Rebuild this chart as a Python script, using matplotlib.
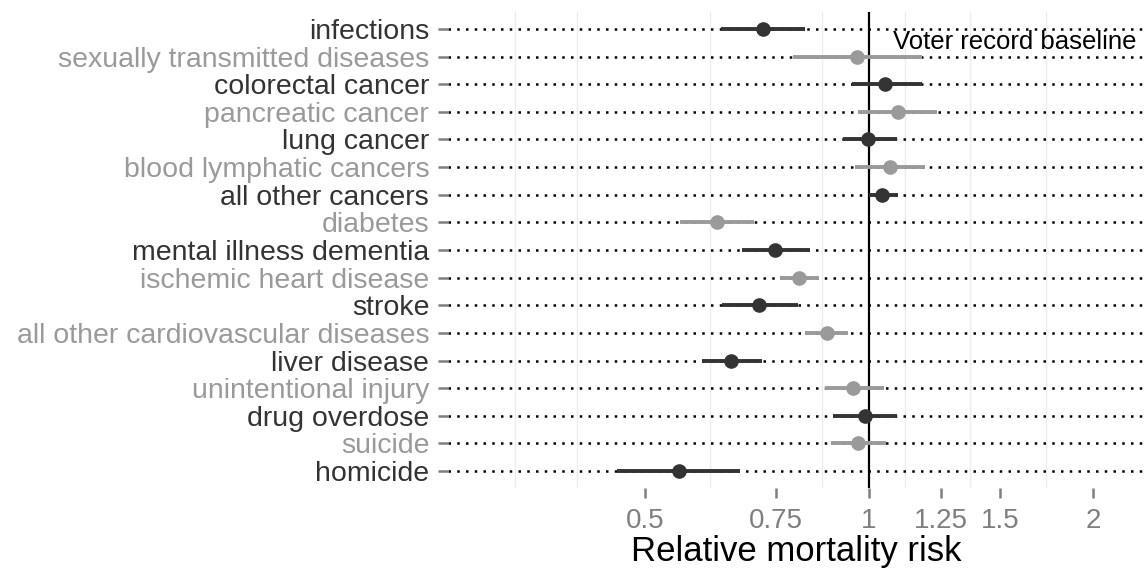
import numpy as np
import matplotlib
matplotlib.use("Agg")
import matplotlib.pyplot as plt

plt.rcParams['font.family'] = ['Liberation Sans', 'DejaVu Sans']

causes = ["infections", "sexually transmitted diseases", "colorectal cancer",
          "pancreatic cancer", "lung cancer", "blood lymphatic cancers",
          "all other cancers", "diabetes", "mental illness dementia",
          "ischemic heart disease", "stroke", "all other cardiovascular diseases",
          "liver disease", "unintentional injury", "drug overdose", "suicide",
          "homicide"]
estimate = [0.721, 0.963, 1.051, 1.094, 0.997, 1.067, 1.041, 0.626, 0.749,
            0.805, 0.713, 0.878, 0.652, 0.951, 0.988, 0.967, 0.555]
lower = [0.632, 0.792, 0.949, 0.967, 0.923, 0.957, 1.000, 0.558, 0.675,
         0.759, 0.634, 0.822, 0.596, 0.872, 0.894, 0.889, 0.459]
upper = [0.820, 1.178, 1.178, 1.235, 1.090, 1.190, 1.094, 0.700, 0.833,
         0.856, 0.802, 0.937, 0.718, 1.047, 1.090, 1.054, 0.672]
x_breaks = [0.5, 0.75, 1, 1.25, 1.5, 2]
x_labels = ["0.5", "0.75", "1", "1.25", "1.5", "2"]
minor_breaks = [0.335, 0.406, 0.612, 0.866, 1.118, 1.369, 1.732]

dark = "#333333"
light = "#9a9a9a"

fig = plt.figure(figsize=(11.45, 5.72), dpi=100)
ax = fig.add_axes([448 / 1145, 1 - 487.6 / 572, 1 - 448 / 1145, (487.6 - 12.4) / 572])
ax.set_xscale('log', base=2)
ax.set_xlim(0.272, 2.35)
ax.set_ylim(len(causes) - 1 + 0.6, -0.6)

for b in minor_breaks:
    ax.axvline(b, color="#ececec", lw=1, zorder=0)

ypos = np.arange(len(causes))
for y in ypos:
    ax.axhline(y, color="black", lw=1.8, linestyle=(0, (1, 2.5)), zorder=1)

ax.axvline(1, color="black", lw=1.6, zorder=2)

for i, (est, lo, hi) in enumerate(zip(estimate, lower, upper)):
    col = dark if i % 2 == 0 else light
    ax.plot([lo, hi], [i, i], color=col, lw=2.8, solid_capstyle='butt', zorder=3)
    ax.plot(est, i, 'o', color=col, ms=9.5, zorder=4)

ax.text(1.077, 0.47, "Voter record baseline", fontsize=18.5, va='center', ha='left',
        color="black", zorder=5)

ax.set_yticks(ypos)
ax.set_yticklabels(causes, fontsize=20.5)
for i, lab in enumerate(ax.get_yticklabels()):
    lab.set_color(dark if i % 2 == 0 else light)

ax.set_xticks(x_breaks)
ax.set_xticklabels(x_labels, fontsize=20, color="#7f7f7f")
ax.xaxis.set_minor_locator(matplotlib.ticker.NullLocator())
ax.tick_params(axis='both', length=7.5, width=1.8, color="#7f7f7f")
ax.tick_params(axis='y', pad=6)
ax.tick_params(axis='x', pad=7)
ax.set_xlabel("Relative mortality risk", fontsize=25, labelpad=1)

for s in ax.spines.values():
    s.set_visible(False)

fig.savefig("out.png", dpi=100)
